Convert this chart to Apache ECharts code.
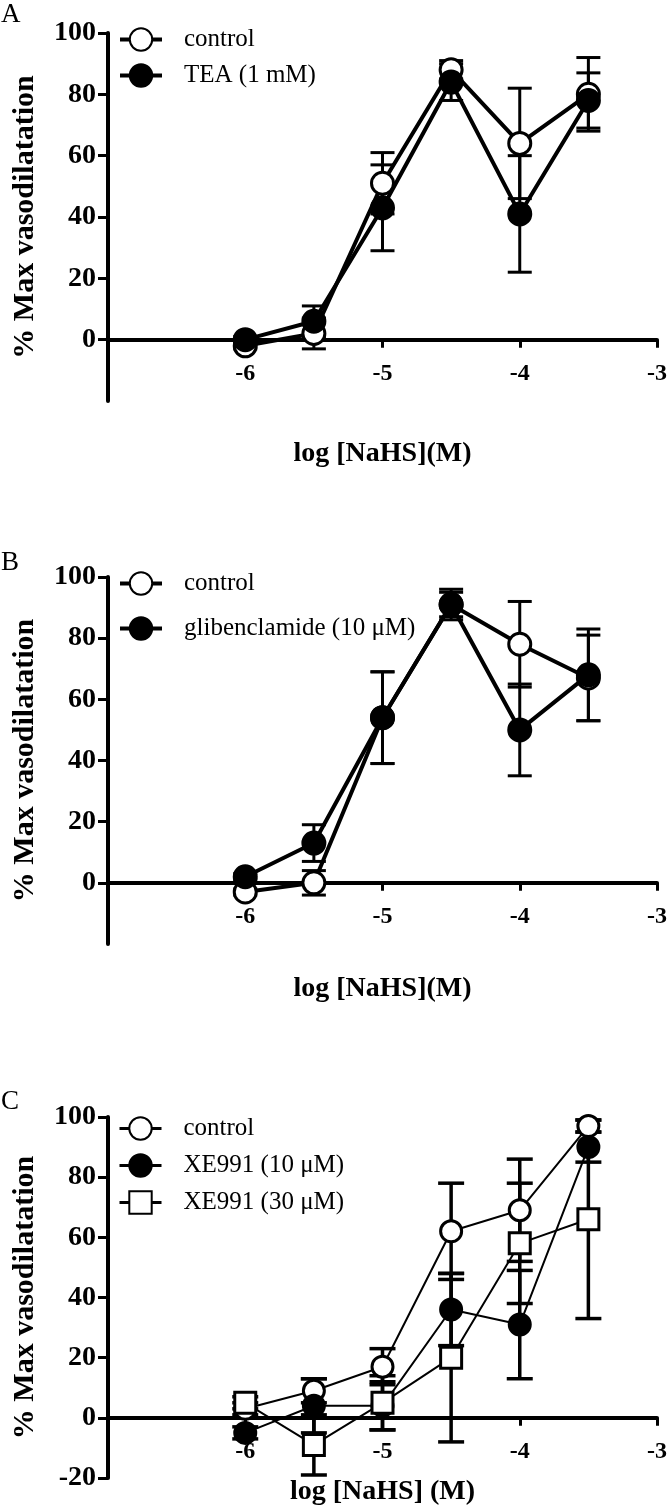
<!DOCTYPE html>
<html>
<head>
<meta charset="utf-8">
<script src="https://cdn.jsdelivr.net/npm/echarts@6/dist/echarts.min.js"></script>
<style>
html,body{margin:0;padding:0;background:#fff;}
#chart{width:670px;height:1512px;}
</style>
</head>
<body>
<div id="chart"></div>
<script>
// ---- data ----
const xLog = [-6, -5.5, -5, -4.5, -4, -3.5];
const xTicks = [-6, -5, -4, -3];
const yTicksAB = [0, 20, 40, 60, 80, 100];
const yTicksC = [-20, 0, 20, 40, 60, 80, 100];
const panelLetters = ['A', 'B', 'C'];
const xNames = ['log [NaHS](M)', 'log [NaHS](M)', 'log [NaHS] (M)'];
const yName = '% Max vasodilatation';

// Panel A
const controlA = [-2, 2, 51, 88, 64, 80];
const controlA_sem = [1, 5, 10, 3, 18, 12];
const teaA = [0, 6, 43, 84, 41, 78];
const teaA_sem = [1, 5, 14, 6, 19, 9];
// Panel B
const controlB = [-3, 0, 54, 91, 78, 67];
const controlB_sem = [1, 4, 15, 4, 14, 14];
const glibB = [2, 13, 54, 91, 50, 68];
const glibB_sem = [1, 6, 15, 5, 15, 15];
// Panel C
const controlC = [3, 9, 17, 62, 69, 97];
const controlC_sem = [2, 4, 6, 16, 17, 2];
const xe10C = [-5, 4, 4, 36, 31, 90];
const xe10C_sem = [2, 9, 8, 12, 18, 5];
const xe30C = [5, -9, 5, 20, 58, 66];
const xe30C_sem = [2, 10, 9, 28, 20, 33];

const seriesNamesA = ['control', 'TEA (1 mM)'];
const seriesNamesB = ['control', 'glibenclamide (10 \u03bcM)'];
const seriesNamesC = ['control', 'XE991 (10 \u03bcM)', 'XE991 (30 \u03bcM)'];

// ---- helpers ----
const FONT = 'Liberation Serif';
const X_MIN = -7, X_MAX = -3, Y_MIN = -20, Y_MAX = 100;
function pts(ys) { return xLog.map((x, i) => [x, ys[i]]); }
function errPts(ys, es) { return xLog.map((x, i) => [x, ys[i], es[i]]); }

function errSeries(gi, ys, es, lw, capHalf) {
  return {
    type: 'custom', xAxisIndex: gi, yAxisIndex: gi, z: 2, silent: true,
    data: errPts(ys, es),
    renderItem: function (params, api) {
      const x = api.value(0), y = api.value(1), e = api.value(2);
      const hi = api.coord([x, y + e]);
      const lo = api.coord([x, y - e]);
      const st = { stroke: '#000', lineWidth: lw };
      return {
        type: 'group', children: [
          { type: 'line', shape: { x1: hi[0], y1: hi[1], x2: lo[0], y2: lo[1] }, style: st },
          { type: 'line', shape: { x1: hi[0] - capHalf, y1: hi[1], x2: hi[0] + capHalf, y2: hi[1] }, style: st },
          { type: 'line', shape: { x1: lo[0] - capHalf, y1: lo[1], x2: lo[0] + capHalf, y2: lo[1] }, style: st }
        ]
      };
    }
  };
}

function lineSeries(gi, name, ys, symbol, filled, lw, size) {
  return {
    type: 'line', name: name, xAxisIndex: gi, yAxisIndex: gi, z: 3,
    data: pts(ys), symbol: symbol, symbolSize: size, showSymbol: true,
    lineStyle: { color: '#000', width: lw },
    itemStyle: { color: filled ? '#000' : '#fff', borderColor: '#000', borderWidth: 3 },
    emphasis: { disabled: true }, animation: false
  };
}

const grids = [
  { left: 108, top: 33, width: 549, height: 368 },
  { left: 108, top: 577, width: 549, height: 367 },
  { left: 108, top: 1117, width: 549, height: 361 }
];
const xNameGaps = [100, 92, 60];

// x axis sits on y = 0: shift it up from the grid bottom by the share of the y range below zero
const xAxes = grids.map((g, i) => ({
  type: 'value', gridIndex: i, min: X_MIN, max: X_MAX, interval: 1,
  offset: -g.height * (0 - Y_MIN) / (Y_MAX - Y_MIN),
  name: xNames[i], nameLocation: 'middle', nameGap: xNameGaps[i],
  nameTextStyle: { fontFamily: FONT, fontWeight: 'bold', fontSize: 28, color: '#000' },
  axisLine: { onZero: false, lineStyle: { color: '#000', width: 4 } },
  axisTick: { show: true, customValues: xTicks, length: 8, lineStyle: { color: '#000', width: 3 } },
  axisLabel: { customValues: xTicks, margin: 22, fontFamily: FONT, fontWeight: 'bold', fontSize: 24, color: '#000' },
  splitLine: { show: false }
}));

const yAxes = grids.map((g, i) => {
  const t = i === 2 ? yTicksC : yTicksAB;
  return {
    type: 'value', gridIndex: i, min: Y_MIN, max: Y_MAX, interval: 20,
    name: yName, nameLocation: 'middle', nameGap: 68,
    nameTextStyle: { fontFamily: FONT, fontWeight: 'bold', fontSize: 30, color: '#000' },
    axisLine: { show: true, onZero: false, lineStyle: { color: '#000', width: 4 } },
    axisTick: { show: true, customValues: t, length: 10, lineStyle: { color: '#000', width: 3 } },
    axisLabel: { customValues: t, margin: 12, fontFamily: FONT, fontWeight: 'bold', fontSize: 28, color: '#000' },
    splitLine: { show: false }
  };
});

function legend(top, gap, names, prefix, lineW) {
  return {
    orient: 'vertical', left: 118, top: top, padding: 0, itemGap: gap,
    itemWidth: 42, itemHeight: 28, selectedMode: false,
    data: names.map(n => prefix + '|' + n),
    formatter: function (n) { return n.split('|')[1]; },
    lineStyle: { width: lineW, color: '#000' },
    textStyle: { fontFamily: FONT, fontSize: 25, color: '#000', padding: [0, 0, 0, 17] }
  };
}

const series = [
  // A
  errSeries(0, controlA, controlA_sem, 3, 12),
  errSeries(0, teaA, teaA_sem, 3, 12),
  lineSeries(0, 'A|' + seriesNamesA[0], controlA, 'circle', false, 4, 22),
  lineSeries(0, 'A|' + seriesNamesA[1], teaA, 'circle', true, 4, 22),
  // B
  errSeries(1, controlB, controlB_sem, 3, 12),
  errSeries(1, glibB, glibB_sem, 3, 12),
  lineSeries(1, 'B|' + seriesNamesB[0], controlB, 'circle', false, 4, 22),
  lineSeries(1, 'B|' + seriesNamesB[1], glibB, 'circle', true, 4, 22),
  // C
  errSeries(2, controlC, controlC_sem, 3.5, 13),
  errSeries(2, xe10C, xe10C_sem, 3.5, 13),
  errSeries(2, xe30C, xe30C_sem, 3.5, 13),
  lineSeries(2, 'C|' + seriesNamesC[0], controlC, 'circle', false, 2, 21),
  lineSeries(2, 'C|' + seriesNamesC[1], xe10C, 'circle', true, 2, 21),
  lineSeries(2, 'C|' + seriesNamesC[2], xe30C, 'rect', false, 2, 21)
];

const titleStyle = { fontFamily: FONT, fontWeight: 'normal', fontSize: 27, color: '#000' };
const option = {
  backgroundColor: '#fff',
  animation: false,
  title: [
    { text: panelLetters[0], left: 1, top: 1, padding: 0, textStyle: titleStyle },
    { text: panelLetters[1], left: 1, top: 549, padding: 0, textStyle: titleStyle },
    { text: panelLetters[2], left: 1, top: 1088, padding: 0, textStyle: titleStyle }
  ],
  grid: grids,
  xAxis: xAxes,
  yAxis: yAxes,
  legend: [
    legend(27, 11, seriesNamesA, 'A', 4),
    legend(571, 20, seriesNamesB, 'B', 4),
    legend(1116, 12, seriesNamesC, 'C', 3)
  ],
  series: series
};

const chart = echarts.init(document.getElementById('chart'), null, { renderer: 'canvas' });
chart.setOption(option);
</script>
</body>
</html>
